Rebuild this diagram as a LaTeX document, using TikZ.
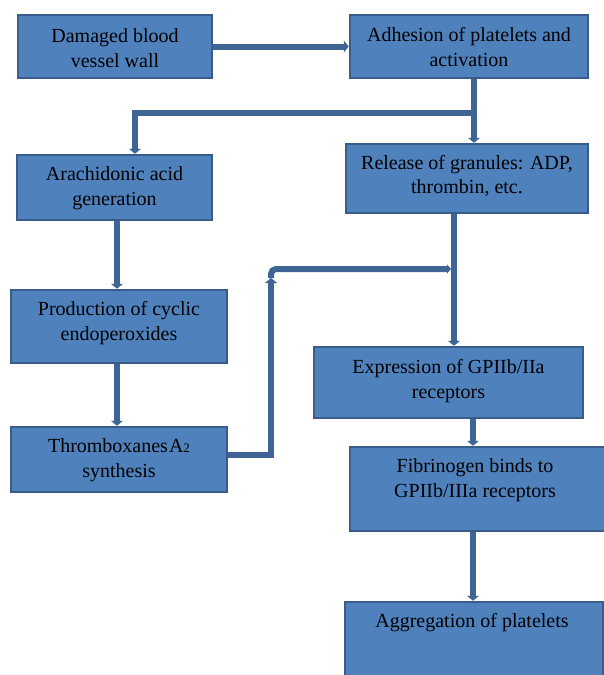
\documentclass[tikz,border=0pt]{standalone}
\usepackage{fontspec}
\setmainfont{Liberation Serif}
\usetikzlibrary{arrows.meta}
\definecolor{boxfill}{HTML}{4F81BD}
\definecolor{boxline}{HTML}{385D8A}
\definecolor{arrcol}{HTML}{3F6596}
\tikzset{
  box/.style={draw=boxline, line width=2.5pt, fill=boxfill, rectangle, inner sep=0pt},
  lbl/.style={align=center, font=\fontsize{20}{24.5}\selectfont, text=black},
  arr/.style={draw=arrcol, line width=6pt, -{Triangle[length=5pt,width=12pt]}},
  ln/.style={draw=arrcol, line width=6pt},
}
\begin{document}
\begin{tikzpicture}[x=1pt,y=-1pt]
\useasboundingbox (0,0) rectangle (604,675);
\clip (0,0) rectangle (604,675);
% boxes
\node[box, minimum width=194pt, minimum height=63pt] (b1) at (115,46.5) {};
\node[box, minimum width=238pt, minimum height=63pt] (b2) at (469,46.5) {};
\node[box, minimum width=195pt, minimum height=65pt] (b3) at (114.5,187.5) {};
\node[box, minimum width=242pt, minimum height=69pt] (b4) at (467,178.5) {};
\node[box, minimum width=216pt, minimum height=73pt] (b5) at (119,326.5) {};
\node[box, minimum width=269pt, minimum height=71pt] (b6) at (448.5,382.5) {};
\node[box, minimum width=216pt, minimum height=65pt] (b7) at (119,459.5) {};
\node[box, minimum width=256pt, minimum height=84pt] (b8) at (478,489) {};
\node[box, minimum width=258pt, minimum height=80pt] (b9) at (474,642) {};
% texts
\node[lbl] (t1) at (115,48) {Damaged blood\\vessel wall};
\node[lbl] (t2) at (469,47) {Adhesion of platelets and\\activation};
\node[lbl] (t3) at (114.5,188) {Arachidonic acid\\generation};
\node[lbl] (t4) at (467,176) {Release of granules: ADP,\\thrombin, etc.};
\node[lbl] (t5) at (119,323) {Production of cyclic\\endoperoxides};
\node[lbl] (t6) at (448.5,381) {Expression of GPIIb/IIa\\receptors};
\node[lbl] (t7) at (119,460) {Thromboxanes\kern1pt A{\fontsize{13}{13}\selectfont 2}\\synthesis};
\node[lbl] (t8) at (475,480) {Fibrinogen binds to\\GPIIb/IIIa receptors};
\node[lbl] (t9) at (472,623) {Aggregation of platelets};
% helper coordinates
\coordinate (xa) at (474,0);
\coordinate (xb) at (135,0);
\coordinate (yb) at (0,113);
\coordinate (xl) at (117,0);
\coordinate (xr) at (454,0);
\coordinate (xe) at (473,0);
\coordinate (xf) at (271,0);
\coordinate (yf) at (0,269);
\coordinate (ya) at (0,278);
\coordinate (yt) at (0,455);
% connectors
\draw[arr] (b1.east) -- (b2.west);
\draw[arr] (b2.south -| xa) -- (b4.north -| xa);
\draw[ln] (xa |- yb) -- (xb |- yb);
\draw[arr] ([yshift=3pt]xb |- yb) -- (b3.north -| xb);
\draw[arr] (b3.south -| xl) -- (b5.north -| xl);
\draw[arr] (b5.south -| xl) -- (b7.north -| xl);
\draw[arr] (b4.south -| xr) -- (b6.north -| xr);
\draw[arr] (b6.south -| xe) -- (b8.north -| xe);
\draw[arr] (b8.south -| xe) -- (b9.north -| xe);
\draw[ln] (b7.east |- yt) -- ([xshift=3pt]xf |- yt);
\draw[arr] ([yshift=3pt]xf |- yt) -- (xf |- ya);
\draw[ln, rounded corners=5pt, -{Triangle[length=4pt,width=9pt]}] (xf |- ya) -- (xf |- yf) -- ([xshift=-3pt]xr |- yf);
\end{tikzpicture}
\end{document}
